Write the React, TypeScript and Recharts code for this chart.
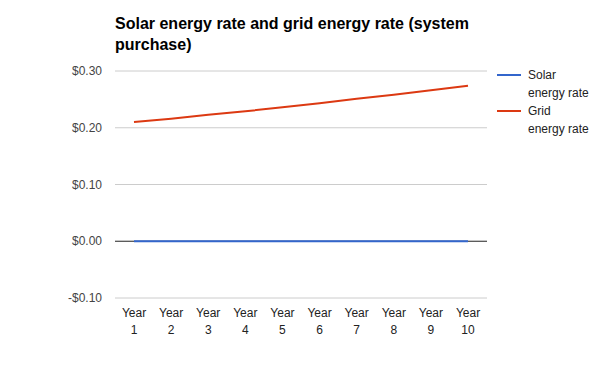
import React from "react";
import { LineChart, Line, XAxis, YAxis, CartesianGrid, ReferenceLine } from "recharts";

const categories = ["Year 1", "Year 2", "Year 3", "Year 4", "Year 5", "Year 6", "Year 7", "Year 8", "Year 9", "Year 10"];
const solarRate = [0, 0, 0, 0, 0, 0, 0, 0, 0, 0];
const gridRate = [0.21, 0.216, 0.223, 0.229, 0.236, 0.243, 0.251, 0.258, 0.266, 0.274];
const yTicks = [-0.1, 0, 0.1, 0.2, 0.3];

const data = categories.map((c, i) => ({ name: c, solar: solarRate[i], grid: gridRate[i] }));

const FONT = "Arial, 'Liberation Sans', sans-serif";

const fmt = (v: number) => (v < 0 ? "-$" : "$") + Math.abs(v).toFixed(2);

const YTick = (props: any) => {
  const { y, payload } = props;
  return (
    <text x={102} y={y} dy={4} textAnchor="end" fontFamily={FONT} fontSize={12} fill="#444">
      {fmt(payload.value)}
    </text>
  );
};

const XTick = (props: any) => {
  const { x, payload } = props;
  const parts = String(payload.value).split(" ");
  return (
    <text textAnchor="middle" fontFamily={FONT} fontSize={12} fill="#222">
      <tspan x={x} y={317}>{parts[0]}</tspan>
      <tspan x={x} y={334}>{parts[1]}</tspan>
    </text>
  );
};

export default function App() {
  return (
    <div style={{ position: "absolute", left: 0, top: 0, width: 600, height: 371, background: "#fff" }}>
      <LineChart width={600} height={371} data={data} margin={{ top: 71, right: 113, bottom: 43, left: 0 }}>
        <CartesianGrid vertical={false} stroke="#cccccc" />
        <XAxis
          dataKey="name"
          height={30}
          axisLine={false}
          tickLine={false}
          interval={0}
          padding={{ left: 19, right: 19 }}
          tick={<XTick />}
        />
        <YAxis
          width={115}
          domain={[-0.1, 0.3]}
          ticks={yTicks}
          axisLine={false}
          tickLine={false}
          tick={<YTick />}
        />
        <ReferenceLine y={0} stroke="#333333" strokeWidth={1} />
        <Line dataKey="solar" stroke="#3366cc" strokeWidth={2} dot={false} isAnimationActive={false} />
        <Line dataKey="grid" stroke="#dc3912" strokeWidth={2} dot={false} isAnimationActive={false} />
      </LineChart>
      <div style={{ position: "absolute", left: 115, top: 13, width: 380, fontFamily: FONT, fontSize: 16, fontWeight: "bold", lineHeight: "21px", color: "#000" }}>
        Solar energy rate and grid energy rate (system purchase)
      </div>
      <svg width={110} height={80} style={{ position: "absolute", left: 490, top: 60 }}>
        <line x1={7} x2={31} y1={15} y2={15} stroke="#3366cc" strokeWidth={2} />
        <text fontFamily={FONT} fontSize={12} fill="#222">
          <tspan x={38} y={19}>Solar</tspan>
          <tspan x={38} y={37}>energy rate</tspan>
        </text>
        <line x1={7} x2={31} y1={51} y2={51} stroke="#dc3912" strokeWidth={2} />
        <text fontFamily={FONT} fontSize={12} fill="#222">
          <tspan x={38} y={55}>Grid</tspan>
          <tspan x={38} y={73}>energy rate</tspan>
        </text>
      </svg>
    </div>
  );
}
